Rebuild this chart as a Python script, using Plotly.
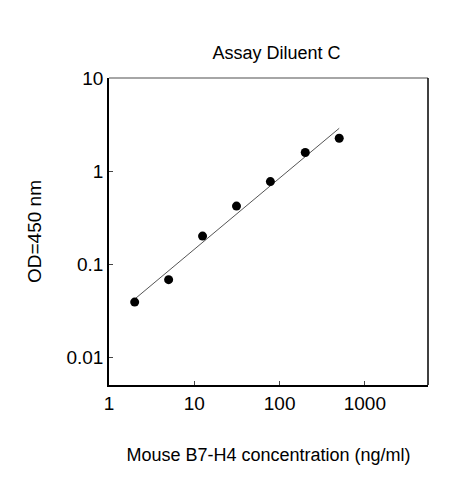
import plotly.graph_objects as go

conc = [2, 5, 12.5, 31.25, 78, 200, 500]
od = [0.039, 0.068, 0.2, 0.42, 0.77, 1.58, 2.25]
fit_x = [2, 500]
fit_y = [0.042, 2.88]

fig = go.Figure()
fig.add_trace(go.Scatter(x=fit_x, y=fit_y, mode="lines",
                         line=dict(color="#555555", width=1)))
fig.add_trace(go.Scatter(x=conc, y=od, mode="markers",
                         marker=dict(color="black", size=9)))

axis_font = dict(family="Arial, Liberation Sans", size=19, color="black")
fig.update_xaxes(type="log", range=[0, 3.74], tickvals=[1, 10, 100, 1000],
                 ticktext=["1", "10", "100", "1000"], ticks="inside", ticklen=4,
                 showline=True, linecolor="black", linewidth=1.5, mirror=False,
                 showgrid=False, zeroline=False, tickfont=axis_font,
                 title=dict(text="Mouse B7-H4 concentration (ng/ml)", standoff=36,
                            font=dict(family="Arial, Liberation Sans", size=18, color="black")))
fig.update_yaxes(type="log", range=[-2.30, 1], tickvals=[0.01, 0.1, 1, 10],
                 ticktext=["0.01", "0.1", "1", "10"], ticks="inside", ticklen=4,
                 showline=True, linecolor="black", linewidth=1.5,
                 showgrid=False, zeroline=False, tickfont=axis_font,
                 title=dict(text="OD=450 nm", standoff=20,
                            font=dict(family="Arial, Liberation Sans", size=19, color="black")))
# top and right frame lines
fig.add_shape(type="line", xref="paper", yref="paper", x0=0, x1=1, y0=1, y1=1,
              line=dict(color="#888888", width=1.5))
fig.add_shape(type="line", xref="paper", yref="paper", x0=1, x1=1, y0=0, y1=1,
              line=dict(color="black", width=1.5))

fig.update_layout(width=463, height=480, showlegend=False,
                  plot_bgcolor="white", paper_bgcolor="white",
                  margin=dict(l=101, r=43, t=70, b=103),
                  title=dict(text="Assay Diluent C", x=0.58, y=0.92, xanchor="center",
                             font=dict(family="Arial, Liberation Sans", size=18, color="black")))
fig.write_html("out.html")
